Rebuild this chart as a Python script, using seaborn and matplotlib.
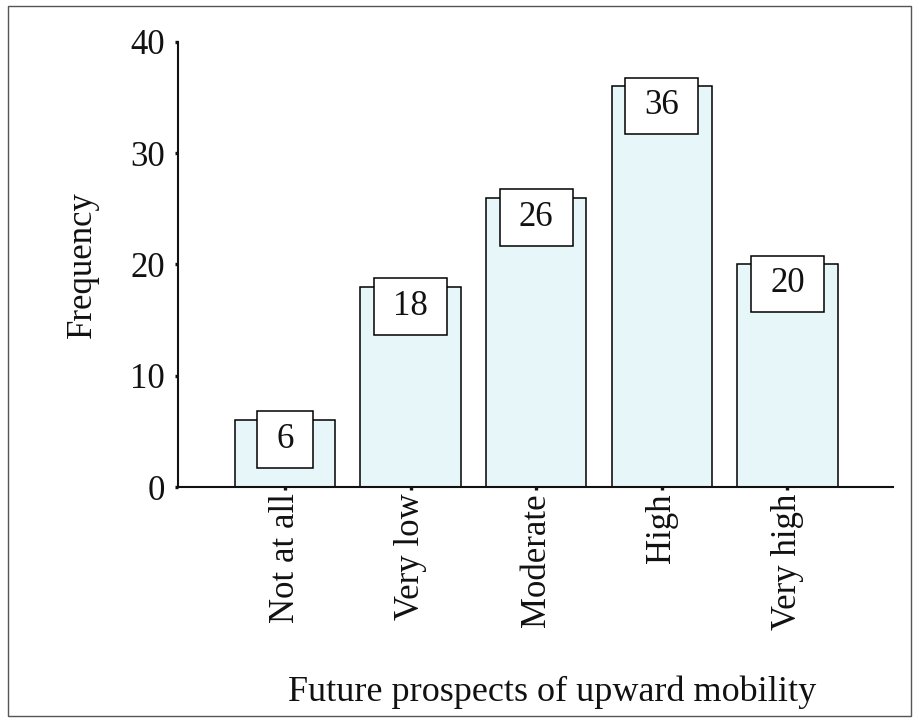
import matplotlib
matplotlib.use("Agg")
import matplotlib.pyplot as plt
from matplotlib.patches import Rectangle
import seaborn as sns
import pandas as pd

# Survey responses: perceived future prospects of upward mobility
categories = ["Not at all", "Very low", "Moderate", "High", "Very high"]
frequencies = [6, 18, 26, 36, 20]
y_ticks = [0, 10, 20, 30, 40]

df = pd.DataFrame({"category": categories, "frequency": frequencies})

sns.set_style("ticks")
plt.rcParams["font.family"] = ["Liberation Serif", "DejaVu Serif"]
FS = 25
plt.rcParams["font.size"] = FS

W, H = 919, 726
fig = plt.figure(figsize=(W / 100, H / 100), dpi=100)
ax = fig.add_axes([178 / W, 1 - 487 / H, (893 - 178) / W, (487 - 42) / H])

bar_fill = "#e7f6f8"
sns.barplot(data=df, x="category", y="frequency", order=categories,
            color=bar_fill, edgecolor="black", linewidth=1.1, width=0.8,
            saturation=1, ax=ax)

# value labels in boxes straddling each bar top
for i, v in enumerate(frequencies):
    txt = str(v)
    bw = 0.30 + 0.14 * len(txt)
    ax.add_patch(Rectangle((i - bw / 2, v - 4.3), bw, 5.1,
                           facecolor="white", edgecolor="black",
                           linewidth=1.1, zorder=4))
    ax.text(i, v - 1.75, txt, ha="center", va="center",
            fontsize=FS, color="#111111", zorder=5)

ax.set_xlim(-0.852, 4.84)
ax.set_ylim(0, 40)
ax.set_yticks(y_ticks)
ax.set_yticklabels([str(t) for t in y_ticks])
ax.tick_params(axis="y", direction="out", length=2.5, width=2.4, pad=7,
               labelsize=FS, colors="#111111")
ax.tick_params(axis="x", direction="out", length=2.5, width=2.4, pad=2,
               labelsize=FS, colors="#111111", labelrotation=90)
for lbl in ax.get_xticklabels():
    lbl.set_va("top")

sns.despine(ax=ax)
for s in ("left", "bottom"):
    ax.spines[s].set_linewidth(1.5)
    ax.spines[s].set_color("#111111")

ax.set_xlabel("")
ax.set_ylabel("")
fig.text(82 / W, 1 - 265 / H, "Frequency", rotation=90, ha="center",
         va="center", fontsize=FS, color="#111111")
fig.text(552 / W, 1 - 692 / H, "Future prospects of upward mobility",
         ha="center", va="center", fontsize=26, color="#111111")

# thin frame around the whole figure
fig.add_artist(Rectangle((8 / W, 1 - 716 / H), (911 - 8) / W, (716 - 6) / H,
                         transform=fig.transFigure, fill=False,
                         edgecolor="#555555", linewidth=1.0))

fig.savefig("out.png", dpi=100, facecolor="white")
